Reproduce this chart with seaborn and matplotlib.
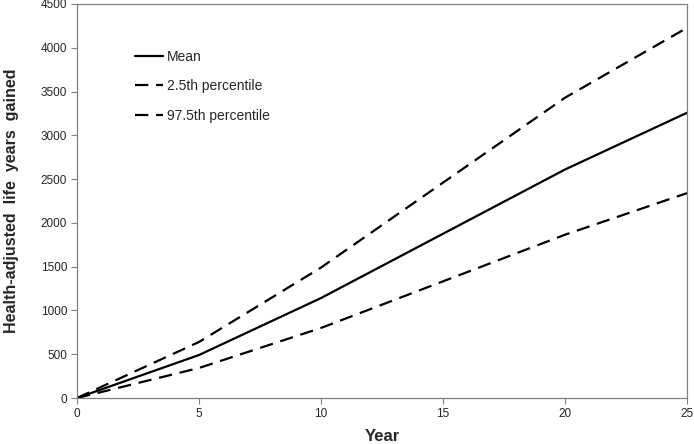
import numpy as np
import pandas as pd
import seaborn as sns
import matplotlib.pyplot as plt

# values
years = [0, 5, 10, 20, 25]
mean_vals = [0, 491, 1142, 2610, 3258]
p025_vals = [0, 343, 800, 1865, 2340]
p975_vals = [0, 640, 1490, 3430, 4228]

sns.set_style("white")
plt.rcParams['font.family'] = ['Liberation Sans', 'DejaVu Sans']

df = pd.DataFrame({"Year": years, "Mean": mean_vals,
                   "2.5th percentile": p025_vals, "97.5th percentile": p975_vals})

fig = plt.figure(figsize=(6.94, 4.44), dpi=100)
ax = fig.add_axes([0.111, 0.1036, 0.879, 0.8874])

sns.lineplot(data=df, x="Year", y="Mean", ax=ax, color="black", lw=1.6, label="Mean")
sns.lineplot(data=df, x="Year", y="2.5th percentile", ax=ax, color="black", lw=1.6,
             label="2.5th percentile").lines[-1].set_dashes((6, 3.5))
sns.lineplot(data=df, x="Year", y="97.5th percentile", ax=ax, color="black", lw=1.6,
             label="97.5th percentile").lines[-1].set_dashes((6, 3.5))

ax.set_xlim(0, 25)
ax.set_ylim(0, 4500)
ax.set_xticks(range(0, 26, 5))
ax.set_yticks(range(0, 4501, 500))
ax.tick_params(axis='both', direction='out', length=4, width=0.8, color='#808080',
               labelsize=8.5, pad=3, bottom=True, left=True)
for s in ax.spines.values():
    s.set_color('#808080')
    s.set_linewidth(0.9)

ax.set_xlabel("Year", fontsize=12, fontweight='bold', labelpad=7)
ax.set_ylabel("Health-adjusted  life  years  gained", fontsize=11.5, fontweight='bold', labelpad=16)

ax.legend(loc='upper left', bbox_to_anchor=(0.075, 0.915), frameon=False, fontsize=10,
          handlelength=2.0, labelspacing=1.1, handletextpad=0.25)

plt.savefig("out.png", dpi=100)
